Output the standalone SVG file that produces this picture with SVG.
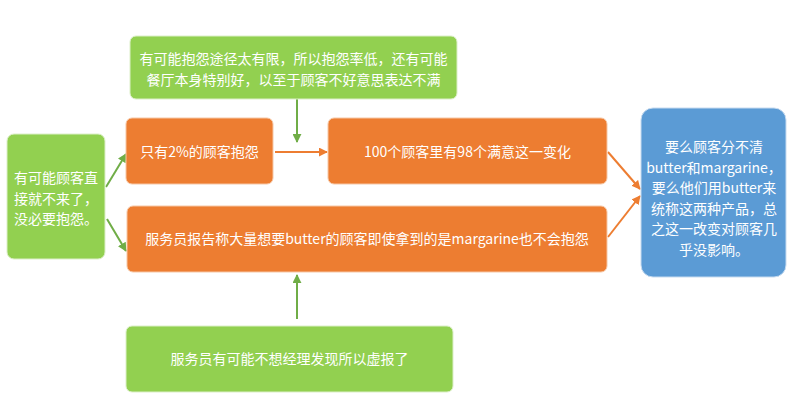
<svg xmlns="http://www.w3.org/2000/svg" width="802" height="420" viewBox="0 0 802 420">
<defs>
<marker id="ag" viewBox="0 0 10 10" refX="9" refY="5" markerWidth="9" markerHeight="9" markerUnits="userSpaceOnUse" orient="auto"><path d="M0,0 L10,5 L0,10 z" fill="#70AD47"/></marker>
<marker id="ao" viewBox="0 0 10 10" refX="9" refY="5" markerWidth="9" markerHeight="9" markerUnits="userSpaceOnUse" orient="auto"><path d="M0,0 L10,5 L0,10 z" fill="#ED7D31"/></marker>
</defs>
<style>
.g{fill:#92D050;stroke:#DCEFC8;stroke-width:1}
.o{fill:#ED7D31;stroke:#F6C7A5;stroke-width:1}
.b{fill:#5B9BD5;stroke:#C7DBF0;stroke-width:1}
text{font-family:"Noto Sans CJK SC","Microsoft YaHei",sans-serif;font-size:14px;fill:#FFFFFF;text-anchor:middle}
.lg{stroke:#70AD47;stroke-width:2;fill:none}
.lo{stroke:#ED7D31;stroke-width:2;fill:none}
</style>
<rect width="802" height="420" fill="#FFFFFF"/>
<g id="connectors">
<line class="lg" x1="297" y1="99" x2="297" y2="142" marker-end="url(#ag)"/>
<line class="lo" x1="275" y1="152" x2="327" y2="152" marker-end="url(#ao)"/>
<line class="lg" x1="106" y1="187" x2="126" y2="154" marker-end="url(#ag)"/>
<line class="lg" x1="107" y1="219" x2="126" y2="251" marker-end="url(#ag)"/>
<line class="lg" x1="297" y1="319" x2="297" y2="275" marker-end="url(#ag)"/>
<line class="lo" x1="608" y1="152" x2="640" y2="189" marker-end="url(#ao)"/>
<line class="lo" x1="608" y1="237" x2="640" y2="196" marker-end="url(#ao)"/>
</g>
<g id="n_left">
<rect class="g" x="7" y="134" width="98" height="125" rx="7"/>
<text x="56" y="183">有可能顾客直</text>
<text x="56" y="203.5">接就不来了，</text>
<text x="56" y="224">没必要抱怨。</text>
</g>
<g id="n_top">
<rect class="g" x="130" y="36" width="327" height="63" rx="6"/>
<text x="293.5" y="64">有可能抱怨途径太有限，所以抱怨率低，还有可能</text>
<text x="293.5" y="84.5">餐厅本身特别好，以至于顾客不好意思表达不满</text>
</g>
<g id="n_2pct">
<rect class="o" x="126" y="118" width="147" height="66" rx="6"/>
<text x="199.5" y="157">只有2%的顾客抱怨</text>
</g>
<g id="n_100">
<rect class="o" x="328" y="118" width="279" height="66" rx="6"/>
<text x="467.5" y="157">100个顾客里有98个满意这一变化</text>
</g>
<g id="n_long">
<rect class="o" x="127" y="206" width="480" height="66" rx="6"/>
<text x="367" y="244">服务员报告称大量想要butter的顾客即使拿到的是margarine也不会抱怨</text>
</g>
<g id="n_blue">
<rect class="b" x="641" y="108" width="145" height="169" rx="12"/>
<text x="714" y="152">要么顾客分不清</text>
<text x="714" y="172.5">butter和margarine，</text>
<text x="714" y="193">要么他们用butter来</text>
<text x="714" y="213.5">统称这两种产品，总</text>
<text x="714" y="234">之这一改变对顾客几</text>
<text x="714" y="254.5">乎没影响。</text>
</g>
<g id="n_bottom">
<rect class="g" x="126" y="326" width="327" height="66" rx="6"/>
<text x="289.5" y="364">服务员有可能不想经理发现所以虚报了</text>
</g>
</svg>
